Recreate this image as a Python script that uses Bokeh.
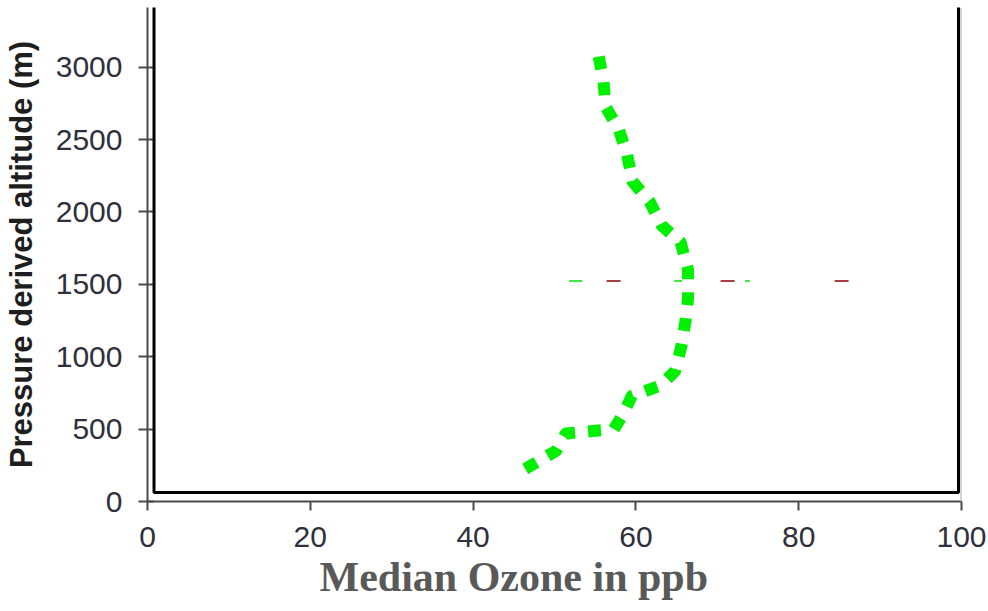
from bokeh.plotting import figure
from bokeh.models import Range1d, FixedTicker, BoxAnnotation, Title, Span
from bokeh.embed import file_html
from bokeh.resources import INLINE

# ---- data ----
altitude_m = [225, 350, 470, 500, 610, 730, 800, 900, 1075, 1250, 1400, 1600,
              1790, 1905, 2070, 2210, 2400, 2570, 2725, 2910, 3110]
ozone_ppb = [46.4, 50.2, 51.4, 57.3, 58.5, 59.5, 63.0, 64.8, 65.6, 66.1, 66.4, 66.4,
             65.5, 63.2, 61.7, 59.6, 58.9, 57.9, 56.3, 56.0, 55.3]

# faint remnants of thin dashed marker lines near 1520 m
marker_red_x = [56.4, 86.5]
marker_red_y = [1523, 1523]
marker_green_x = [51.8, 74.0]
marker_green_y = [1523, 1523]

x_ticks = [0, 20, 40, 60, 80, 100]
y_ticks = [0, 500, 1000, 1500, 2000, 2500, 3000]
X_START, X_END = 0, 100
Y_START, Y_END = 0, 3412

p = figure(width=988, height=611, output_backend="svg", toolbar_location=None,
           x_range=Range1d(X_START, X_END), y_range=Range1d(Y_START, Y_END),
           min_border_left=145, min_border_right=27, min_border_top=7,
           min_border_bottom=110)
p.outline_line_color = None
p.xgrid.visible = False
p.ygrid.visible = False
p.background_fill_color = "white"
p.border_fill_color = "white"

tick_font = "Liberation Sans"
for ax in (p.xaxis[0], p.yaxis[0]):
    ax.axis_line_color = "#4a4a4a"
    ax.axis_line_width = 2
    ax.major_tick_line_color = "#4a4a4a"
    ax.major_tick_line_width = 2
    ax.minor_tick_line_color = None
    ax.major_tick_out = 9
    ax.major_label_text_font = tick_font
    ax.major_label_text_font_size = "30px"
    ax.major_label_text_color = "#30303c"

p.xaxis.ticker = FixedTicker(ticks=x_ticks)
p.yaxis.ticker = FixedTicker(ticks=y_ticks)
p.xaxis.major_tick_in = 0
p.yaxis.major_tick_in = 6
p.xaxis.major_label_standoff = 16
p.yaxis.major_label_standoff = 16

p.yaxis.axis_label = "Pressure derived altitude (m)"
p.yaxis.axis_label_text_font = "Liberation Sans"
p.yaxis.axis_label_text_font_size = "31px"
p.yaxis.axis_label_text_font_style = "bold"
p.yaxis.axis_label_text_color = "#1e1e1e"
p.yaxis.axis_label_standoff = 14

# right-side gray frame line
p.add_layout(Span(location=X_END, dimension="height", line_color="#a8a8a8",
                  line_width=2))

# inner black plot-area frame
frame = BoxAnnotation(left=X_START + 0.8, right=X_END - 0.37,
                      bottom=Y_START + 62, top=Y_END + 600,
                      fill_color=None, fill_alpha=0,
                      line_color="black", line_alpha=1.0, line_width=3)
p.add_layout(frame)

p.line(marker_red_x, marker_red_y, line_color="#8b0000", line_width=1.5,
       line_dash="14 100")
p.line(marker_green_x, marker_green_y, line_color="#00e000", line_width=1.5,
       line_dash="13 92 8 63 5 1000")

p.line(ozone_ppb, altitude_m, line_color="#00f000", line_width=12,
       line_dash="13 13", line_cap="butt", line_join="round")

xlabel = Title(text="Median Ozone in ppb", align="left", offset=172,
               text_font="Liberation Serif", text_font_size="42px",
               text_font_style="bold", text_color="#595959", standoff=4)
p.add_layout(xlabel, "below")

open("out.html", "w").write(file_html(p, INLINE))
